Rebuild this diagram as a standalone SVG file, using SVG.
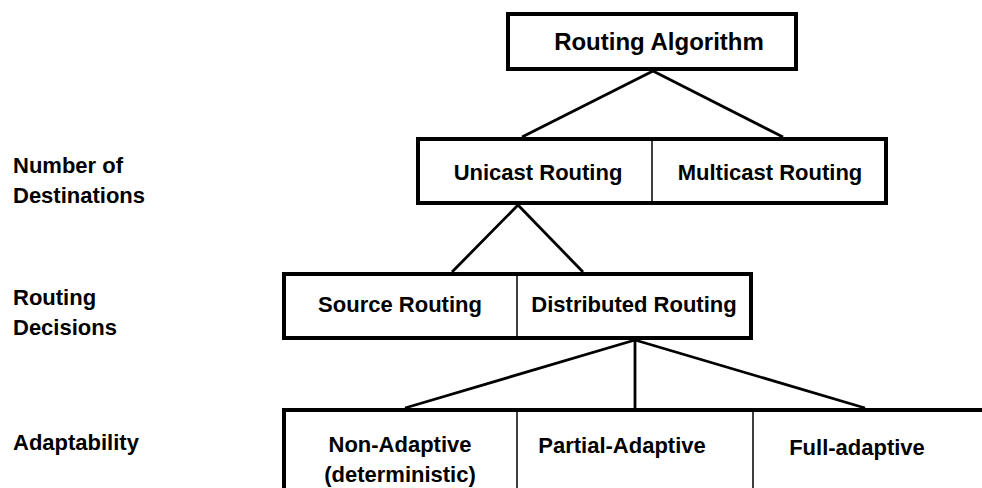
<svg xmlns="http://www.w3.org/2000/svg" width="982" height="488" viewBox="0 0 982 488">
<style>
.box{fill:#fff;stroke:#000;stroke-width:4;stroke-linejoin:miter}
.div{stroke:#000;stroke-width:1.5}
.conn line{stroke:#000;stroke-width:2.8;stroke-linecap:butt}
text{font-family:"Liberation Sans",Arial,sans-serif;font-weight:bold;font-size:22px;fill:#000}
.c{text-anchor:middle}
</style>
<rect width="982" height="488" fill="#fff"/>
<g id="connectors" class="conn">
<line x1="653" y1="71" x2="522" y2="137"/>
<line x1="653" y1="71" x2="783" y2="137"/>
<line x1="518" y1="205" x2="452" y2="272"/>
<line x1="518" y1="205" x2="583" y2="272"/>
<line x1="635" y1="340" x2="405" y2="408"/>
<line x1="635" y1="340" x2="635" y2="408"/>
<line x1="635" y1="340" x2="865" y2="408"/>
</g>
<g id="routing-algorithm">
<rect class="box" x="508" y="14" width="288" height="55"/>
<text class="c" x="659" y="50" style="font-size:24px">Routing Algorithm</text>
</g>
<g id="destinations">
<rect class="box" x="418" y="139" width="468" height="64"/>
<line class="div" x1="652" y1="139" x2="652" y2="203"/>
<text class="c" x="538" y="180">Unicast Routing</text>
<text class="c" x="770" y="180">Multicast Routing</text>
</g>
<g id="decisions">
<rect class="box" x="284" y="274" width="467" height="64"/>
<line class="div" x1="517" y1="274" x2="517" y2="338"/>
<text class="c" x="400" y="312">Source Routing</text>
<text class="c" x="634" y="312">Distributed Routing</text>
</g>
<g id="adaptability">
<rect class="box" x="284" y="410" width="720" height="100"/>
<line class="div" x1="517" y1="410" x2="517" y2="488"/>
<line class="div" x1="753" y1="410" x2="753" y2="488"/>
<text class="c" x="400" y="452">Non-Adaptive</text>
<text class="c" x="400" y="482">(deterministic)</text>
<text class="c" x="622" y="453">Partial-Adaptive</text>
<text class="c" x="857" y="455">Full-adaptive</text>
</g>
<g id="labels">
<text x="13" y="173">Number of</text>
<text x="13" y="203">Destinations</text>
<text x="13" y="305">Routing</text>
<text x="13" y="335">Decisions</text>
<text x="13" y="450">Adaptability</text>
</g>
</svg>
